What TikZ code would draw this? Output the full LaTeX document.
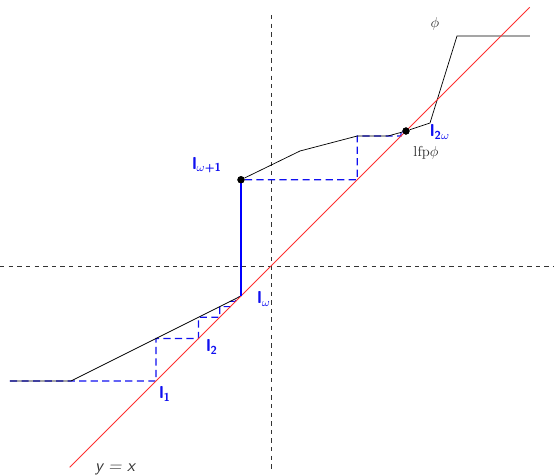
\documentclass[tikz,border=0pt]{standalone}
\usepackage{xcolor}
\usepackage{amsmath}
\usepackage{tikz}
\usetikzlibrary{positioning}
\definecolor{diag}{HTML}{FF3030}
\definecolor{iter}{HTML}{1010F0}
\definecolor{ink}{HTML}{333333}
\tikzset{
  axis/.style={draw=ink, dashed, line width=0.5pt},
  graph/.style={draw=black, line width=0.5pt},
  diagonal/.style={draw=diag, line width=0.6pt},
  stair/.style={draw=iter, dash pattern=on 5pt off 3pt, line width=0.7pt},
  jump/.style={draw=blue, line width=0.7pt},
  dot/.style={circle, fill=black, inner sep=0pt, minimum size=5pt},
  lab/.style={text=iter, font=\large\sffamily\bfseries},
  plain/.style={text=ink},
}

\begin{document}
\begin{tikzpicture}[x=0.61cm, y=0.61cm]
  \useasboundingbox (-10.84,-8.36) rectangle (11.32,10.64);

  % axes
  \draw[axis] (-10.84,0) -- (11.32,0);
  \draw[axis] (0,10.04) -- (0,-8.16);

  % key points
  \coordinate (start) at (-10.44,-4.6);
  \coordinate (knee) at (-8,-4.6);
  \coordinate (lw) at (-1.2,-1.2);
  \node[dot] (lw1) at (-1.2,3.45) {};
  \node[dot] (lfp) at (5.4,5.4) {};

  % iteration from below
  \draw[stair] (start) -- (-4.6,-4.6) -- (-4.6,-2.9) -- (-2.9,-2.9)
    -- (-2.9,-2.05) -- (-2.05,-2.05) -- (-2.05,-1.625) -- (-1.625,-1.625)
    -- (-1.625,-1.4125) -- (-1.4125,-1.4125) -- (-1.4125,-1.306) -- (lw);
  % iteration after the limit
  \draw[stair] (lw1) -- (3.45,3.45) -- (3.45,5.2) -- (5.2,5.2)
    -- (5.2,5.344) -- (5.344,5.344) -- (5.344,5.384) -- (lfp);

  % the map phi
  \draw[graph] (start) -- (knee) -- (lw);
  \draw[graph] (lw1) -- (1.16,4.6) -- (3.45,5.2) -- (4.68,5.2) -- (lfp)
    -- (6.36,5.72) -- (7.44,9.2) -- (10.36,9.2);

  % y = x
  \coordinate (dlo) at (-8.05,-8.05);
  \coordinate (dhi) at (10.35,10.35);
  \draw[diagonal] (dlo) -- (dhi);

  \draw[jump] (lw) -- (lw1.center);
  \node[dot] at (lw1) {};
  \node[dot] at (lfp) {};

  % labels
  \node[lab] (l1) at (-4.24,-5.12) {l$_{\text{1}}$};
  \node[lab] (l2) at (-2.36,-3.24) {l$_{\text{2}}$};
  \node[lab] (lom) at (-0.28,-1.32) {l$_{\omega}$};
  \node[lab] (lom1) at (-2.56,4.04) {l$_{\omega\text{+1}}$};
  \node[lab] (l2om) at (6.76,5.36) {l$_{\text{2}\omega}$};
  \node[plain] (lfplab) at (6.2,4.52) {lfp$\phi$};
  \node[plain] (philab) at (6.56,9.68) {$\phi$};
  \node[plain, font=\large\sffamily\slshape] (yx) at (-6.24,-8.12) {y = x};
\end{tikzpicture}
\end{document}
